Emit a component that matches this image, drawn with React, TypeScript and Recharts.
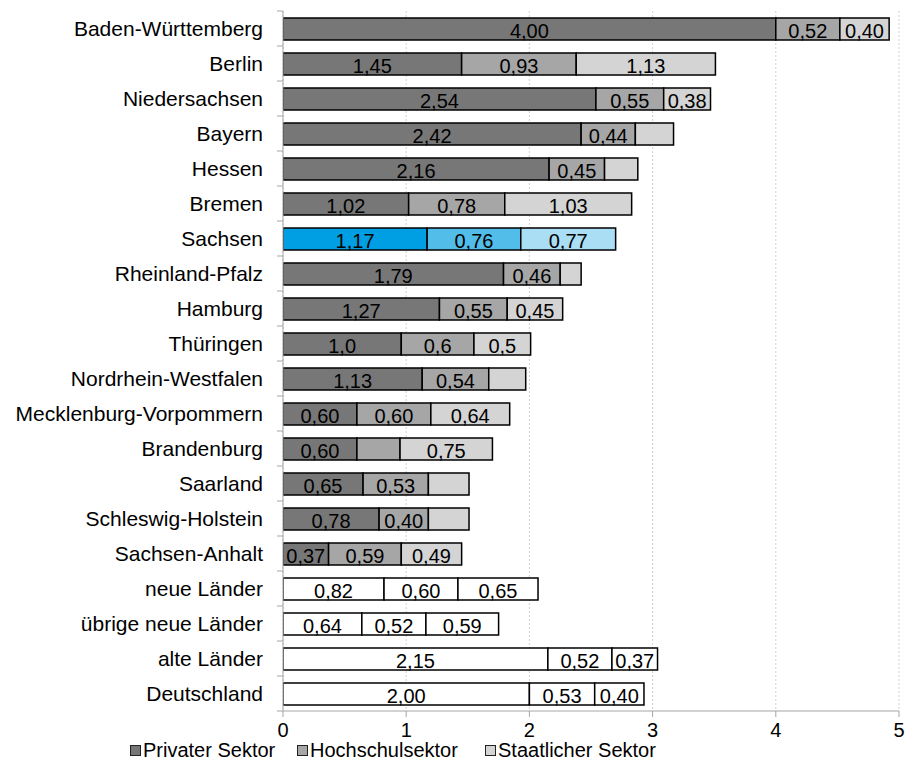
import React from 'react'
import {
  BarChart,
  Bar,
  XAxis,
  YAxis,
  CartesianGrid,
  LabelList,
  Cell,
} from 'recharts'

const laender = [
  'Baden-Württemberg',
  'Berlin',
  'Niedersachsen',
  'Bayern',
  'Hessen',
  'Bremen',
  'Sachsen',
  'Rheinland-Pfalz',
  'Hamburg',
  'Thüringen',
  'Nordrhein-Westfalen',
  'Mecklenburg-Vorpommern',
  'Brandenburg',
  'Saarland',
  'Schleswig-Holstein',
  'Sachsen-Anhalt',
  'neue Länder',
  'übrige neue Länder',
  'alte Länder',
  'Deutschland',
]

const privat = [4.0, 1.45, 2.54, 2.42, 2.16, 1.02, 1.17, 1.79, 1.27, 0.96, 1.13, 0.6, 0.6, 0.65, 0.78, 0.37, 0.82, 0.64, 2.15, 2.0]
const hochschule = [0.52, 0.93, 0.55, 0.44, 0.45, 0.78, 0.76, 0.46, 0.55, 0.59, 0.54, 0.6, 0.35, 0.53, 0.4, 0.59, 0.6, 0.52, 0.52, 0.53]
const staat = [0.4, 1.13, 0.38, 0.31, 0.27, 1.03, 0.77, 0.17, 0.45, 0.46, 0.3, 0.64, 0.75, 0.33, 0.33, 0.49, 0.65, 0.59, 0.37, 0.4]

// segments drawn without a value label in the original
const ohneLabel: Record<string, string[]> = {
  Bayern: ['staat'],
  Hessen: ['staat'],
  'Rheinland-Pfalz': ['staat'],
  'Nordrhein-Westfalen': ['staat'],
  Brandenburg: ['hochschule'],
  Saarland: ['staat'],
  'Schleswig-Holstein': ['staat'],
}
const eineNachkommastelle = ['Thüringen']
const hervorgehoben = 'Sachsen'
const aggregate = ['neue Länder', 'übrige neue Länder', 'alte Länder', 'Deutschland']

const xTicks = [0, 1, 2, 3, 4, 5]

const series = [
  { key: 'privat', name: 'Privater Sektor', color: '#777777', blue: '#009fe3', legendX: 130 },
  { key: 'hochschule', name: 'Hochschulsektor', color: '#a6a6a6', blue: '#52bde9', legendX: 297 },
  { key: 'staat', name: 'Staatlicher Sektor', color: '#d4d4d4', blue: '#a9def4', legendX: 485 },
]

const fmt = (name: string, v: number) =>
  v.toFixed(eineNachkommastelle.includes(name) ? 1 : 2).replace('.', ',')

const data = laender.map((name, i) => {
  const row: any = { name, privat: privat[i], hochschule: hochschule[i], staat: staat[i] }
  series.forEach((s) => {
    const hidden = (ohneLabel[name] || []).includes(s.key)
    row[s.key + 'Label'] = hidden ? null : fmt(name, row[s.key])
  })
  return row
})

const FONT = '"Liberation Sans", Arial, sans-serif'
const CHART_W = 907
const CHART_H = 764
const MARGIN = { top: 11, right: 8, bottom: 0, left: 0 }
const X_AXIS_H = 53
const PLOT_H = CHART_H - MARGIN.top - MARGIN.bottom - X_AXIS_H
const BAND = PLOT_H / laender.length

const CategoryTick = (props: any) => {
  const { x, y, payload, index } = props
  const axisX = x + 20
  return (
    <g>
      <line x1={axisX - 6} x2={axisX} y1={y - BAND / 2} y2={y - BAND / 2} stroke="#a6a6a6" />
      {index === laender.length - 1 && (
        <line x1={axisX - 6} x2={axisX} y1={y + BAND / 2} y2={y + BAND / 2} stroke="#a6a6a6" />
      )}
      <text x={x} y={y + 7} textAnchor="end" fontSize={21} fill="#000" fontFamily={FONT}>
        {payload.value}
      </text>
    </g>
  )
}

const SegmentLabel = (props: any) => {
  const { x, y, width, height, value } = props
  if (value === null || value === undefined) return null
  return (
    <text
      x={x + width / 2}
      y={y + height / 2 + 9}
      textAnchor="middle"
      fontSize={20}
      fill="#000"
      fontFamily={FONT}
    >
      {value}
    </text>
  )
}

const ChartLegend = () => (
  <>
    {series.map((s) => (
      <div
        key={s.key}
        style={{
          position: 'absolute',
          left: s.legendX,
          top: 738,
          display: 'flex',
          alignItems: 'center',
          fontFamily: FONT,
          fontSize: 20,
          lineHeight: '24px',
          color: '#000',
          whiteSpace: 'nowrap',
        }}
      >
        <span
          style={{
            display: 'inline-block',
            width: 9,
            height: 9,
            background: s.color,
            border: '1px solid #222',
            marginRight: 2,
          }}
        />
        <span>{s.name}</span>
      </div>
    ))}
  </>
)

export default function App() {
  return (
    <div style={{ position: 'fixed', left: 0, top: 0, width: CHART_W, height: CHART_H, background: '#fff', fontFamily: FONT }}>
      <BarChart width={CHART_W} height={CHART_H} data={data} layout="vertical" margin={MARGIN} barSize={22}>
        <CartesianGrid horizontal={false} stroke="#d0d0d0" strokeDasharray="2 2" />
        <XAxis
          type="number"
          domain={[0, 5]}
          ticks={xTicks}
          interval={0}
          height={X_AXIS_H}
          tickSize={6}
          tickMargin={6}
          axisLine={{ stroke: '#a6a6a6' }}
          tickLine={{ stroke: '#a6a6a6' }}
          tick={{ fontSize: 20, fill: '#000', fontFamily: FONT }}
          allowDataOverflow
        />
        <XAxis
          xAxisId="top"
          orientation="top"
          type="number"
          domain={[0, 5]}
          height={0}
          tick={false}
          tickLine={false}
          axisLine={{ stroke: '#d9d9d9' }}
        />
        <YAxis
          type="category"
          dataKey="name"
          width={283}
          tickSize={0}
          tickMargin={20}
          tickLine={false}
          axisLine={{ stroke: '#a6a6a6' }}
          tick={<CategoryTick />}
          interval={0}
        />
        <YAxis
          yAxisId="right"
          orientation="right"
          type="category"
          dataKey="name"
          width={0}
          tick={false}
          tickLine={false}
          axisLine={{ stroke: '#d9d9d9' }}
        />
        {series.map((s) => (
          <Bar key={s.key} dataKey={s.key} name={s.name} stackId="a" fill={s.color} stroke="#000" strokeWidth={1.5} isAnimationActive={false}>
            {data.map((d) => (
              <Cell
                key={d.name}
                fill={d.name === hervorgehoben ? s.blue : aggregate.includes(d.name) ? '#ffffff' : s.color}
              />
            ))}
            <LabelList dataKey={s.key + 'Label'} content={<SegmentLabel />} />
          </Bar>
        ))}
      </BarChart>
      <ChartLegend />
    </div>
  )
}
